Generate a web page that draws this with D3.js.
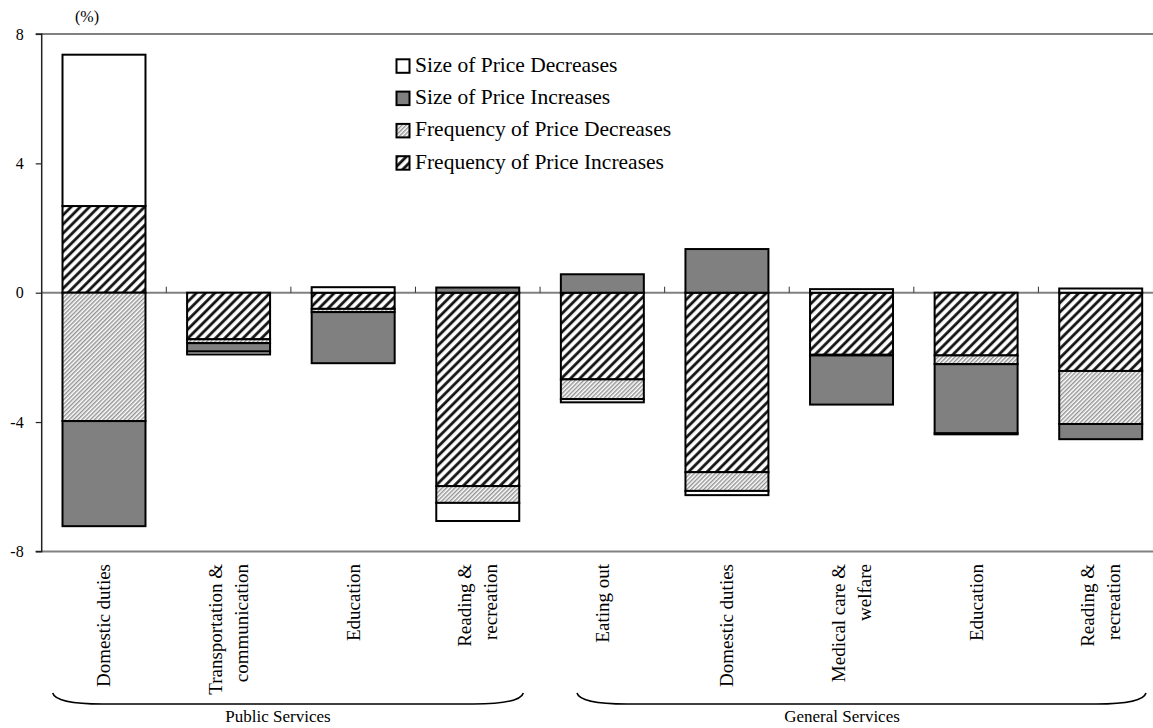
<!DOCTYPE html>
<html>
<head>
<meta charset="utf-8">
<script src="https://cdn.jsdelivr.net/npm/d3@7"></script>
<style>
  html, body { margin: 0; padding: 0; background: #fff; }
  svg { display: block; font-family: "Liberation Serif", "Times New Roman", serif; }
</style>
</head>
<body>
<svg id="chart" width="1153" height="728"></svg>
<script>
// ---------- data ----------
const categories = ["Domestic duties", "Transportation & communication", "Education", "Reading & recreation",
                    "Eating out", "Domestic duties", "Medical care & welfare", "Education", "Reading & recreation"];
const categoryLines = [["Domestic duties"], ["Transportation &", "communication"], ["Education"], ["Reading &", "recreation"],
                       ["Eating out"], ["Domestic duties"], ["Medical care &", "welfare"], ["Education"], ["Reading &", "recreation"]];
const groups = ["Public Services", "General Services"];

const freqIncreases = [2.68, -1.44, -0.50, -5.98, -2.68, -5.55, -1.92, -1.94, -2.42];
const freqDecreases = [-3.97, -0.12, -0.10, -0.52, -0.61, -0.58, -0.02, -0.27, -1.64];
const sizeIncreases = [-3.25, -0.26, -1.58, 0.16, 0.57, 1.35, -1.52, -2.14, -0.47];
const sizeDecreases = [4.68, -0.09, 0.17, -0.56, -0.10, -0.13, 0.11, -0.03, 0.13];

const seriesNames = ["Frequency of Price Increases", "Frequency of Price Decreases", "Size of Price Increases", "Size of Price Decreases"];
const legendOrder = ["Size of Price Decreases", "Size of Price Increases", "Frequency of Price Decreases", "Frequency of Price Increases"];
const yTicks = [8, 4, 0, -4, -8];
const yTickLabels = ["8", "4", "0", "-4", "-8"];
const unitLabel = "(%)";

// ---------- layout ----------
const svg = d3.select("#chart");
const x0 = 41.7, x1 = 1163, yTop = 34, yBot = 551.4;

const x = d3.scaleBand().domain(d3.range(categories.length)).range([x0, x1])
  .paddingInner(0.334).paddingOuter(0.167);
const y = d3.scaleLinear().domain([-8, 8]).range([yBot, yTop]);

// patterns
const defs = svg.append("defs");
const pFI = defs.append("pattern").attr("id", "pFI").attr("patternUnits", "userSpaceOnUse")
  .attr("width", 6.5).attr("height", 6.5).attr("patternTransform", "rotate(45)");
pFI.append("rect").attr("width", 6.5).attr("height", 6.5).attr("fill", "#fff");
pFI.append("line").attr("x1", 1.6).attr("x2", 1.6).attr("y1", 0).attr("y2", 6.5)
  .attr("stroke", "#111").attr("stroke-width", 2.8);

const pFD = defs.append("pattern").attr("id", "pFD").attr("patternUnits", "userSpaceOnUse")
  .attr("width", 3).attr("height", 3).attr("patternTransform", "rotate(45)");
pFD.append("rect").attr("width", 3).attr("height", 3).attr("fill", "#fff");
pFD.append("line").attr("x1", 0.8).attr("x2", 0.8).attr("y1", 0).attr("y2", 3)
  .attr("stroke", "#707070").attr("stroke-width", 1.1);

const fills = {
  "Frequency of Price Increases": "url(#pFI)",
  "Frequency of Price Decreases": "url(#pFD)",
  "Size of Price Increases": "#808080",
  "Size of Price Decreases": "#ffffff"
};

// frame lines (top / bottom)
svg.append("line").attr("x1", x0).attr("x2", 1153).attr("y1", y(8)).attr("y2", y(8))
  .attr("stroke", "#808080").attr("stroke-width", 2);
svg.append("line").attr("x1", x0).attr("x2", 1153).attr("y1", y(-8)).attr("y2", y(-8))
  .attr("stroke", "#808080").attr("stroke-width", 2);

// stacked data
const rows = categories.map((c, i) => ({
  i,
  "Frequency of Price Increases": freqIncreases[i],
  "Frequency of Price Decreases": freqDecreases[i],
  "Size of Price Increases": sizeIncreases[i],
  "Size of Price Decreases": sizeDecreases[i]
}));
const stacked = d3.stack().keys(seriesNames).offset(d3.stackOffsetDiverging)(rows);

// zero line
svg.append("line").attr("x1", x0).attr("x2", 1153).attr("y1", y(0)).attr("y2", y(0))
  .attr("stroke", "#808080").attr("stroke-width", 2);
// category tick marks on zero line
d3.range(1, categories.length + 1).forEach(k => {
  const xx = x0 + k * x.step();
  svg.append("line").attr("x1", xx).attr("x2", xx).attr("y1", y(0)).attr("y2", y(0) - 6)
    .attr("stroke", "#333").attr("stroke-width", 1);
});

// bars
stacked.forEach(s => {
  svg.append("g").selectAll("rect").data(s.filter(d => d[0] !== d[1])).join("rect")
    .attr("x", d => x(d.data.i))
    .attr("width", x.bandwidth())
    .attr("y", d => y(Math.max(d[0], d[1])))
    .attr("height", d => Math.abs(y(d[0]) - y(d[1])))
    .attr("fill", fills[s.key])
    .attr("stroke", "#000").attr("stroke-width", 2);
});

// y axis
const yAxis = d3.axisLeft(y).tickValues(yTicks).tickSize(6)
  .tickFormat((d, i) => yTickLabels[i]);
const ga = svg.append("g").attr("transform", `translate(${x0},0)`).call(yAxis);
ga.select(".domain").attr("stroke", "#222").attr("stroke-width", 1.5).attr("d", `M-6,${yTop}H0V${yBot}H-6`);
ga.selectAll(".tick line").attr("stroke", "#222").attr("stroke-width", 1.2);
ga.selectAll(".tick text").attr("x", -18).attr("font-size", 16)
  .attr("font-family", "Liberation Serif, Times New Roman, serif").attr("fill", "#000");

svg.append("text").attr("x", 87).attr("y", 22).attr("text-anchor", "middle")
  .attr("font-size", 16).text(unitLabel);

// category labels (rotated)
const lineGap = 26;
categoryLines.forEach((lines, i) => {
  const cx = x(i) + x.bandwidth() / 2;
  const n = lines.length;
  lines.forEach((ln, j) => {
    const off = (j - (n - 1) / 2) * lineGap;
    const tx = cx + off + 6.5;
    svg.append("text")
      .attr("transform", `translate(${tx},564) rotate(-90)`)
      .attr("text-anchor", "end")
      .attr("font-size", 19)
      .text(ln);
  });
});

// group braces
const braces = [
  { x0: 52.7, x1: 523.3, tx: 278 },
  { x0: 577, x1: 1146, tx: 842 }
];
braces.forEach((b, k) => {
  const top = 693, bot = 704;
  svg.append("path")
    .attr("d", `M${b.x0},${top} Q${b.x0 + 3},${bot} ${b.x0 + 50},${bot} L${b.x1 - 50},${bot} Q${b.x1 - 3},${bot} ${b.x1},${top}`)
    .attr("fill", "none").attr("stroke", "#000").attr("stroke-width", 1.6);
  svg.append("text").attr("x", b.tx).attr("y", 722).attr("text-anchor", "middle")
    .attr("font-size", 17).text(groups[k]);
});

// legend
const lg = svg.append("g");
legendOrder.forEach((name, k) => {
  const ly = 59.3 + k * 32.3;
  lg.append("rect").attr("x", 396.5).attr("y", ly).attr("width", 13).attr("height", 13.5)
    .attr("fill", fills[name]).attr("stroke", "#000").attr("stroke-width", 2);
  lg.append("text").attr("x", 415).attr("y", ly + 12.5).attr("font-size", 21.5).text(name);
});
</script>
</body>
</html>
